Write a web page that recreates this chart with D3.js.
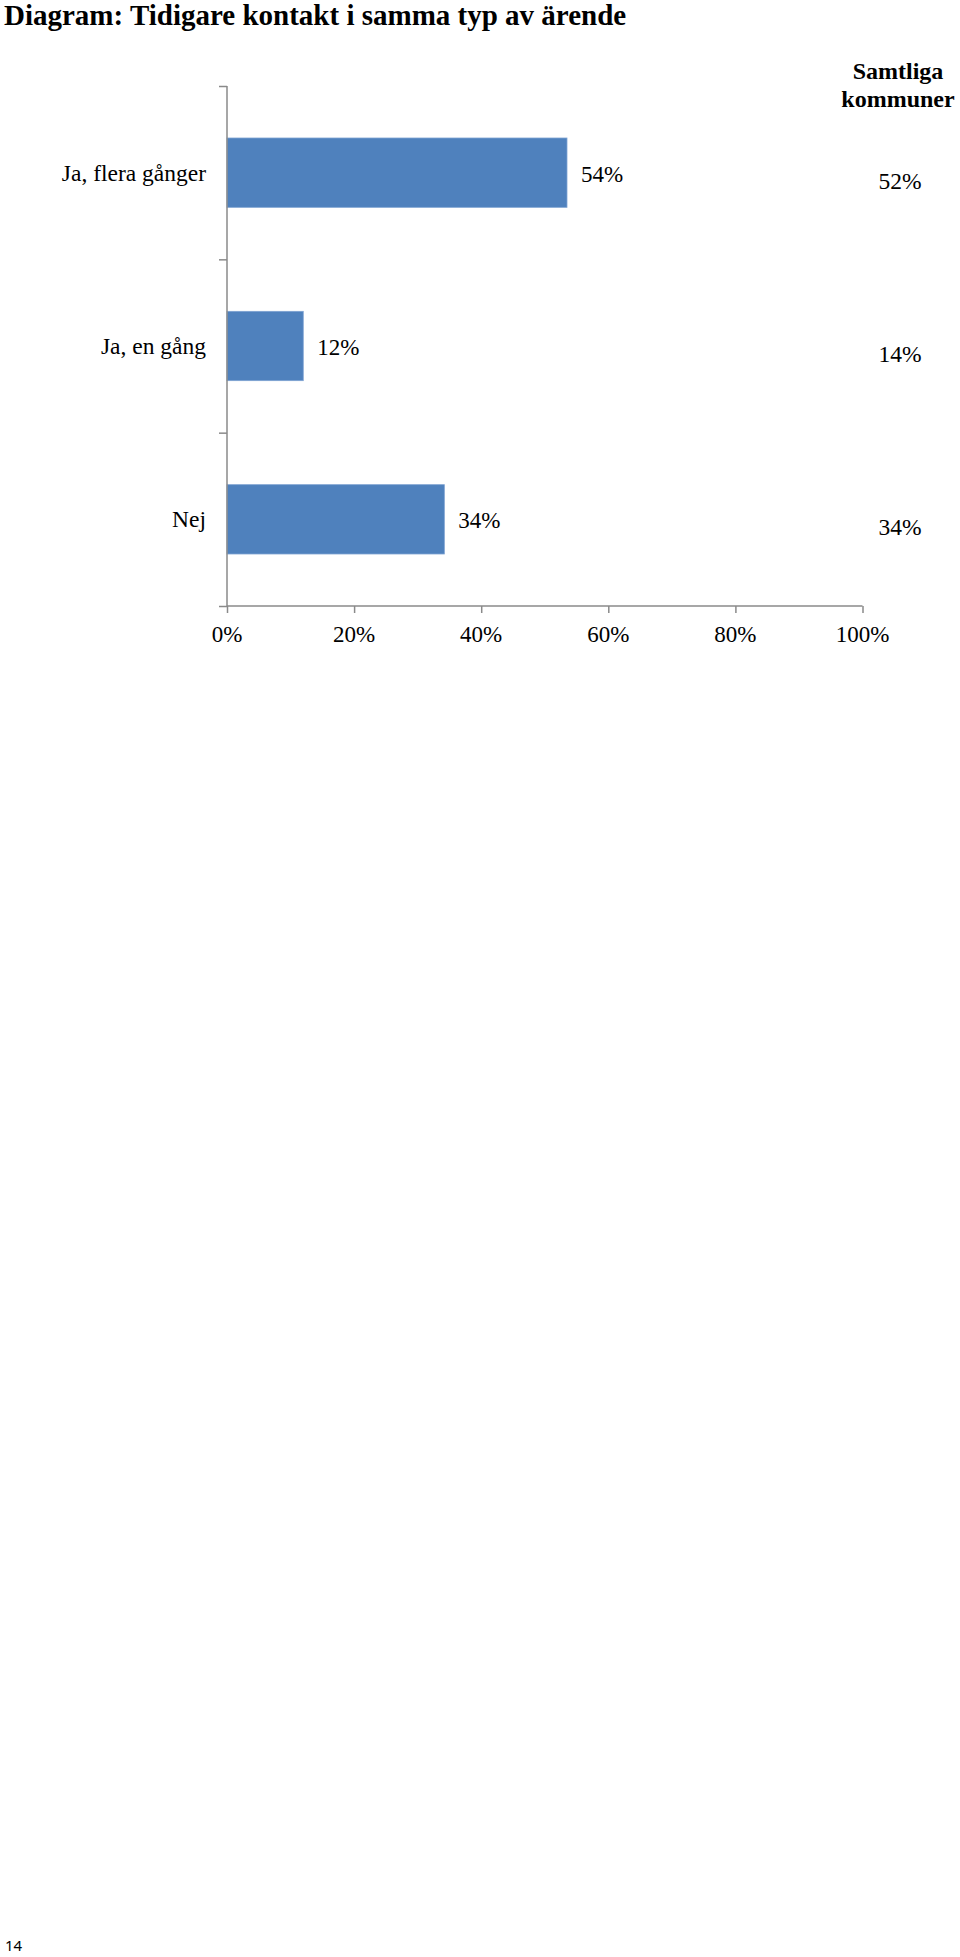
<!DOCTYPE html>
<html><head><meta charset="utf-8">
<script src="https://cdn.jsdelivr.net/npm/d3@7"></script>
<style>
html,body{margin:0;padding:0;background:#fff;}
svg{display:block;}
text{font-family:"Liberation Serif","Times New Roman",serif;fill:#000;}
</style></head>
<body>
<script>
const categories = ["Ja, flera gånger", "Ja, en gång", "Nej"];
const values = [53.5, 12.0, 34.2];
const valueLabels = ["54%", "12%", "34%"];
const allLabels = ["52%", "14%", "34%"];
const xTicks = [0, 20, 40, 60, 80, 100];
const title = "Diagram: Tidigare kontakt i samma typ av ärende";
const compareHeader = ["Samtliga", "kommuner"];
const pageNumber = "14";

const W = 960, H = 1957;
const svg = d3.select("body").append("svg").attr("width", W).attr("height", H);

const x0 = 227, x1 = 862.5, y0 = 86, y1 = 606;
const x = d3.scaleLinear().domain([0, 100]).range([x0, x1]);
const y = d3.scaleBand().domain(categories).range([y0, y1]).paddingInner(0.6).paddingOuter(0.3);
const yb = d3.scaleLinear().domain([0, categories.length]).range([y0, y1]);

svg.append("text").attr("x", 4).attr("y", 25)
  .style("font-weight", "bold").style("font-size", "29px").text(title);

// bars
svg.selectAll("rect.bar").data(categories).enter().append("rect")
  .attr("class", "bar")
  .attr("x", x(0)).attr("y", d => y(d))
  .attr("width", (d, i) => x(values[i]) - x(0))
  .attr("height", y.bandwidth())
  .attr("fill", "#4f81bd").attr("stroke", "#7ea3d3").attr("stroke-width", 0.8);

const axisColor = "#8a8a8a";
// y axis
const gy = svg.append("g").attr("transform", `translate(${x0},0)`)
  .call(d3.axisLeft(yb).tickValues(d3.range(categories.length + 1)).tickSize(8).tickFormat(""));
gy.selectAll("path,line").attr("stroke", axisColor).attr("stroke-width", 1.5);
gy.select("path").attr("d", `M0,${y0}V${y1}`);

// x axis
const gx = svg.append("g").attr("transform", `translate(0,${y1})`)
  .call(d3.axisBottom(x).tickValues(xTicks).tickSize(7).tickFormat(""));
gx.selectAll("path,line").attr("stroke", axisColor).attr("stroke-width", 1.5);
gx.select("path").attr("d", `M${x0},0H${x1}`);

svg.selectAll("text.xt").data(xTicks).enter().append("text")
  .attr("class", "xt").attr("x", d => x(d)).attr("y", 642)
  .attr("text-anchor", "middle").style("font-size", "23px").text(d => d + "%");

// category labels
svg.selectAll("text.cat").data(categories).enter().append("text")
  .attr("class", "cat").attr("x", 206).attr("y", d => y(d) + y.bandwidth() / 2 + 8)
  .attr("text-anchor", "end").style("font-size", "23.5px").text(d => d);

// value labels
svg.selectAll("text.val").data(categories).enter().append("text")
  .attr("class", "val").attr("x", (d, i) => x(values[i]) + 14)
  .attr("y", d => y(d) + y.bandwidth() / 2 + 9)
  .style("font-size", "23px").text((d, i) => valueLabels[i]);

// comparison column
svg.selectAll("text.hdr").data(compareHeader).enter().append("text")
  .attr("class", "hdr").attr("x", 898).attr("y", (d, i) => 79 + i * 28)
  .attr("text-anchor", "middle").style("font-weight", "bold").style("font-size", "24px").text(d => d);

svg.selectAll("text.all").data(categories).enter().append("text")
  .attr("class", "all").attr("x", 900).attr("y", d => y(d) + y.bandwidth() / 2 + 16)
  .attr("text-anchor", "middle").style("font-size", "23.5px").text((d, i) => allLabels[i]);

svg.append("text").attr("x", 5).attr("y", 1951)
  .style("font-family", "'Noto Sans', 'Open Sans', sans-serif").style("font-size", "15px").text(pageNumber);
</script>
</body></html>
